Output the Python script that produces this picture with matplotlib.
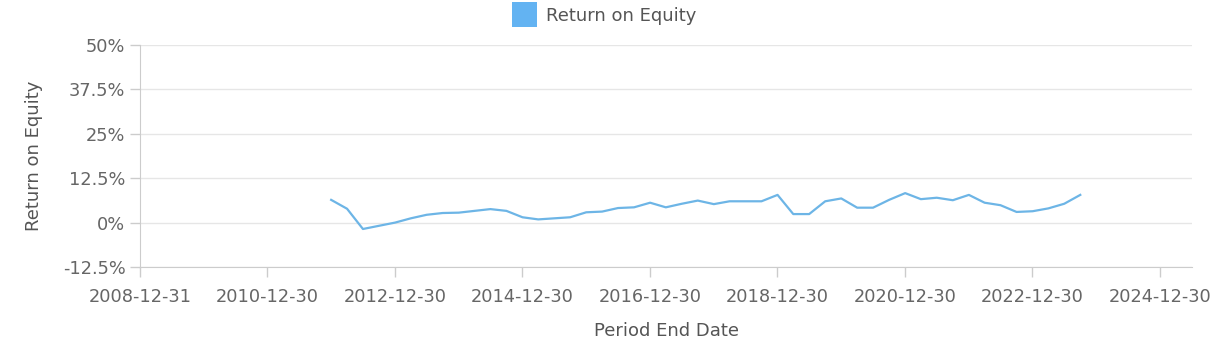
import numpy as np
import pandas as pd
import matplotlib
matplotlib.use("Agg")
import matplotlib.pyplot as plt
import matplotlib.dates as mdates
from matplotlib.patches import Patch

# Quarterly return on equity (%), 2011-12-31 .. 2023-09-30
dates = pd.date_range("2011-12-31", "2023-09-30", freq="QE")
roe = [6.4, 3.9, -1.8, -0.9, 0.0, 1.2, 2.2, 2.7, 2.8, 3.3,
       3.8, 3.3, 1.5, 0.9, 1.2, 1.5, 2.9, 3.1, 4.1,
       4.3, 5.6, 4.3, 5.3, 6.2, 5.2, 6.0, 6.0, 6.0, 7.8,
       2.4, 2.4, 6.0, 6.8, 4.2, 4.2, 6.4,
       8.3, 6.6, 7.0, 6.3, 7.8, 5.6, 4.9, 3.0, 3.2, 4.0, 5.3, 7.8]

tick_dates = ["2008-12-31", "2010-12-30", "2012-12-30", "2014-12-30",
              "2016-12-30", "2018-12-30", "2020-12-30", "2022-12-30",
              "2024-12-30"]
y_ticks = [-12.5, 0, 12.5, 25, 37.5, 50]
y_labels = ["-12.5%", "0%", "12.5%", "25%", "37.5%", "50%"]

line_color = "#6db5e6"
text_color = "#666666"

fig = plt.figure(figsize=(12.23, 3.48), dpi=100)
ax = fig.add_axes([140 / 1223, 1 - 267 / 348, (1192 - 140) / 1223, (267 - 45) / 348])

ax.plot(dates, roe, color=line_color, lw=1.6)

ax.set_ylim(-12.5, 50)
ax.set_yticks(y_ticks)
ax.set_yticklabels(y_labels)
ax.set_xlim(pd.Timestamp("2008-12-31"), pd.Timestamp("2025-07-01"))
ax.set_xticks([pd.Timestamp(d) for d in tick_dates])
ax.set_xticklabels(tick_dates)

ax.grid(axis="y", color="#e6e6e6", lw=1)
ax.set_axisbelow(True)
for s in ["top", "right"]:
    ax.spines[s].set_visible(False)
ax.spines["left"].set_color("#cccccc")
ax.spines["bottom"].set_color("#cccccc")
ax.tick_params(axis="both", colors="#cccccc", labelcolor=text_color,
               labelsize=12.8, length=7, width=1)
ax.tick_params(axis="x", pad=8)

ax.set_xlabel("Period End Date", fontsize=13, color="#555555", labelpad=12)
ax.set_ylabel("Return on Equity", fontsize=13, color="#555555", labelpad=14)

handle = Patch(facecolor="#63b3f2", edgecolor="none")
fig.legend([handle], ["Return on Equity"], loc="upper center",
           bbox_to_anchor=(0.494, 1.04), frameon=False, fontsize=13,
           handlelength=1.35, handleheight=1.75, handletextpad=0.5,
           labelcolor="#555555")

fig.savefig("out.png", dpi=100)
